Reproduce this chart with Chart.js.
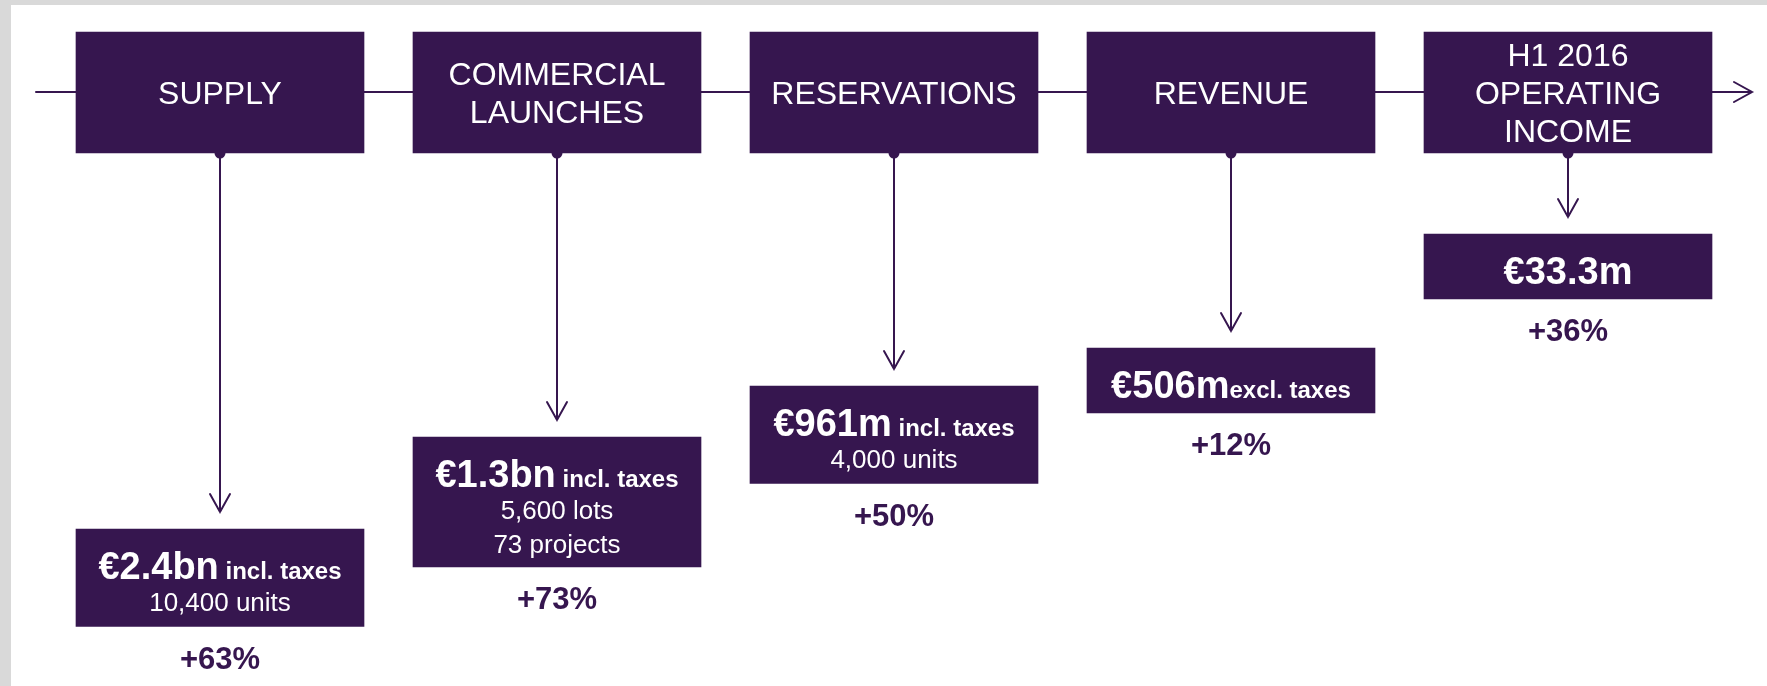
<!DOCTYPE html>
<html>
<head>
<meta charset="utf-8">
<script src="https://cdn.jsdelivr.net/npm/chart.js@4.4.0/dist/chart.umd.min.js"></script>
<style>
    html, body { margin: 0; padding: 0; background: #fff; }
    canvas { display: block; }
</style>
</head>
<body>
<canvas id="chart" width="1767" height="686"></canvas>
<script>
// Value chain steps, left to right
const steps = [["SUPPLY"], ["COMMERCIAL", "LAUNCHES"], ["RESERVATIONS"], ["REVENUE"], ["H1 2016", "OPERATING", "INCOME"]];
const amounts = ["€2.4bn", "€1.3bn", "€961m", "€506m", "€33.3m"];
const taxNotes = [" incl. taxes", " incl. taxes", " incl. taxes", "excl. taxes", ""];
const details = [["10,400 units"], ["5,600 lots", "73 projects"], ["4,000 units"], [], []];
const growth = [63, 73, 50, 12, 36];

// Layout
const purple = "#36164f";
const font = "'Liberation Sans', Arial, sans-serif";
const headTop = 32, headBottom = 153, lineY = 92;
const resultTops = [529, 437, 386, 348, 234];

function boxHeight(i) {
    return 65 + 32.5 * details[i].length;
}

const diagram = {
    id: "diagram",
    beforeDraw(chart) {
        const ctx = chart.ctx;
        const x = chart.scales.x;
        ctx.save();
        ctx.fillStyle = "#fff";
        ctx.fillRect(0, 0, chart.width, chart.height);
        ctx.fillStyle = "#d9d9d9";
        ctx.fillRect(0, 0, chart.width, 5);
        ctx.fillRect(0, 0, 11, chart.height);

        ctx.strokeStyle = purple;
        ctx.lineWidth = 2;
        ctx.lineCap = "round";

        // timeline with arrow
        ctx.beginPath();
        ctx.moveTo(36, lineY);
        ctx.lineTo(1752, lineY);
        ctx.moveTo(1734, lineY - 10);
        ctx.lineTo(1752, lineY);
        ctx.lineTo(1734, lineY + 10);
        ctx.stroke();

        // down arrows to each result
        steps.forEach((s, i) => {
            const cx = x.getPixelForValue(i);
            const tip = resultTops[i] - 17;
            ctx.beginPath();
            ctx.moveTo(cx, headBottom);
            ctx.lineTo(cx, tip);
            ctx.moveTo(cx - 10, tip - 18);
            ctx.lineTo(cx, tip);
            ctx.lineTo(cx + 10, tip - 18);
            ctx.stroke();
        });
        ctx.restore();
    },
    afterDatasetsDraw(chart) {
        const ctx = chart.ctx;
        const x = chart.scales.x;
        ctx.save();
        steps.forEach((lines, i) => {
            const cx = x.getPixelForValue(i);

            // small dot under the header box
            ctx.fillStyle = purple;
            ctx.beginPath();
            ctx.arc(cx, headBottom, 5.5, 0, Math.PI);
            ctx.fill();

            // header text
            ctx.fillStyle = "#fff";
            ctx.textAlign = "center";
            ctx.textBaseline = "middle";
            ctx.font = "32px " + font;
            const mid = (headTop + headBottom) / 2 + 3;
            lines.forEach((l, j) => {
                ctx.fillText(l, cx, mid + (j - (lines.length - 1) / 2) * 38);
            });

            // result box text
            const top = resultTops[i];
            ctx.textBaseline = "alphabetic";
            ctx.textAlign = "left";
            ctx.font = "bold 38px " + font;
            const wa = ctx.measureText(amounts[i]).width;
            ctx.font = "bold 24px " + font;
            const wn = ctx.measureText(taxNotes[i]).width;
            const base = top + 50;
            let sx = cx - (wa + wn) / 2;
            ctx.font = "bold 38px " + font;
            ctx.fillText(amounts[i], sx, base);
            ctx.font = "bold 24px " + font;
            ctx.fillText(taxNotes[i], sx + wa, base);

            ctx.textAlign = "center";
            ctx.font = "26px " + font;
            details[i].forEach((d, j) => {
                ctx.fillText(d, cx, top + 82 + 33.5 * j);
            });

            // growth
            ctx.fillStyle = purple;
            ctx.font = "bold 31px " + font;
            ctx.fillText("+" + growth[i] + "%", cx, top + boxHeight(i) + 42);
        });
        ctx.restore();
    }
};

new Chart(document.getElementById("chart"), {
    type: "bar",
    data: {
        labels: steps,
        datasets: [
            {
                label: "Steps",
                data: steps.map(() => [headTop, headBottom]),
                backgroundColor: purple,
                borderWidth: 0,
                borderSkipped: false,
                barThickness: 288,
                grouped: false
            },
            {
                label: "Results",
                data: resultTops.map((t, i) => [t, t + boxHeight(i)]),
                backgroundColor: purple,
                borderWidth: 0,
                borderSkipped: false,
                barThickness: 288,
                grouped: false
            }
        ]
    },
    options: {
        responsive: false,
        animation: false,
        layout: { padding: { left: 51.5, right: 30.5, top: 0, bottom: 0 } },
        plugins: { legend: { display: false }, tooltip: { enabled: false } },
        scales: {
            x: { display: false },
            y: { display: false, reverse: true, min: 0, max: 686 }
        }
    },
    plugins: [diagram]
});
</script>
</body>
</html>
